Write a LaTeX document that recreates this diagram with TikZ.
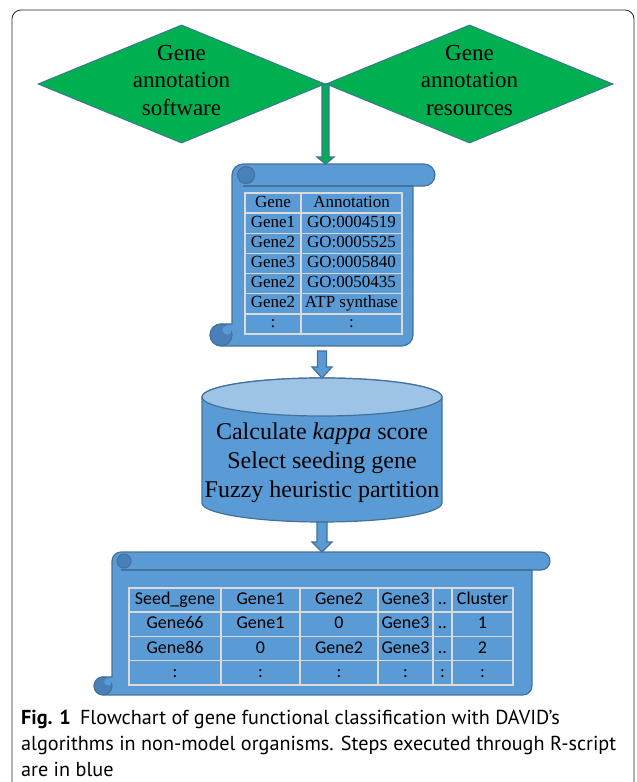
\documentclass[tikz,border=0pt]{standalone}
\usepackage{fontspec}
\setmainfont{Liberation Serif}
\newfontfamily\calibrifont{Carlito}
\newfontfamily\captionfont{PT Sans}
\usetikzlibrary{calc}
\usetikzlibrary{matrix}
\usetikzlibrary{backgrounds}
\usetikzlibrary{shapes.geometric}

\definecolor{officegreen}{HTML}{00B050}
\definecolor{officeblue}{HTML}{5B9BD5}
\definecolor{officeedge}{HTML}{41719C}
\definecolor{officelight}{HTML}{9DC3E6}
\definecolor{curlblue}{HTML}{4A80BA}
\definecolor{gridgray}{HTML}{DADADA}

\tikzset{
    decision/.style={diamond, aspect=2.43, draw=officeedge, line width=0.9pt, fill=officegreen,
        inner sep=0pt, minimum width=287pt, minimum height=118pt, align=center,
        text depth=8pt, font=\fontsize{23}{27.5}\selectfont},
    paper/.style={draw=officeedge, line width=1.2pt, fill=officeblue},
    curl/.style={draw=officeedge, line width=1pt, fill=curlblue},
    arrowedge/.style={draw=officeedge, line width=1.2pt},
    cell/.style={draw=gridgray, line width=1.5pt, inner sep=0pt, outer sep=0pt, anchor=center},
}

% scroll: #1 body top left, #2 body bottom right, #3 roll radius
\newcommand*\scrollbox[3]{
    \draw[paper] let \p1=(#1), \p2=(#2) in
        (\x1,\y1-#3) arc[start angle=180, end angle=90, radius=#3]
        -- (\x2+#3,\y1) arc[start angle=90, end angle=-90, radius=#3]
        -- (\x2,\y1-2*#3) -- (\x2,\y2+#3) arc[start angle=0, end angle=-90, radius=#3]
        -- (\x1-#3,\y2) arc[start angle=-90, end angle=-270, radius=#3]
        -- (\x1,\y2+2*#3) -- cycle;
    \draw[arrowedge] let \p1=(#1), \p2=(#2) in (\x1+#3,\y1-2*#3) -- (\x2,\y1-2*#3);
    \draw[curl] let \p1=(#1) in (\x1+#3+3pt,\y1-#3) circle[radius=0.78*#3];
    \draw[curl] let \p1=(#1), \p2=(#2) in (\x1-#3,\y2+#3) circle[radius=#3];
    \fill[officeblue] let \p1=(#1), \p2=(#2) in (\x1-0.45*#3,\y2+1.45*#3) circle[radius=0.42*#3];
}

% block arrow: from, to, fill, shaft half width, head half width, head length
\newcommand*\blockarrow[6]{
    \draw[arrowedge, fill=#3] let \p1=(#1), \p2=(#2) in
        (\x1-#4,\y1) -- (\x1-#4,\y2+#6) -- (\x1-#5,\y2+#6) -- (\x2,\y2)
        -- (\x1+#5,\y2+#6) -- (\x1+#4,\y2+#6) -- (\x1+#4,\y1) -- cycle;
}

\begin{document}
\begin{tikzpicture}[x=1pt, y=1pt]

    \useasboundingbox (0,0) rectangle (637,782);
    \draw[rounded corners=9pt, line width=0.8pt, black!85] (12,772) rectangle (634,-20);

    % Define nodes
    \node (sw) [decision] at (181.5,698) {Gene\\annotation\\software};
    \node (res) [decision, right of=sw, node distance=288pt] {Gene\\annotation\\resources};

    \matrix (annot) [matrix of nodes, inner sep=0pt, column sep=-1.5pt, row sep=-1.5pt,
        nodes={cell, text height=12pt, text depth=4pt, minimum height=20.15pt,
            font=\fontsize{17}{20}\selectfont},
        column 1/.style={nodes={minimum width=56pt}},
        column 2/.style={nodes={minimum width=101pt}}] at (323.5,518.5) {
        Gene  & Annotation \\
        Gene1 & GO:0004519 \\
        Gene2 & GO:0005525 \\
        Gene3 & GO:0005840 \\
        Gene2 & GO:0050435 \\
        Gene2 & ATP synthase \\
        :     & : \\
    };

    \node (kappa) [align=center, font=\fontsize{24}{29}\selectfont] at (322,319.5)
        {Calculate \textit{kappa} score\\Select seeding gene\\Fuzzy heuristic partition};

    \matrix (clusters) [matrix of nodes, inner sep=0pt, column sep=-1.5pt, row sep=-1.5pt,
        nodes={cell, text height=13pt, text depth=4pt, minimum height=24.25pt,
            font=\calibrifont\fontsize{18}{21}\selectfont},
        column 1/.style={nodes={minimum width=92pt}},
        column 2/.style={nodes={minimum width=79pt}},
        column 3/.style={nodes={minimum width=78pt}},
        column 4/.style={nodes={minimum width=55pt}},
        column 5/.style={nodes={minimum width=19pt}},
        column 6/.style={nodes={minimum width=61pt}}] at (321,145.5) {
        Seed\_gene & Gene1 & Gene2 & Gene3 & .. & Cluster \\
        Gene66     & Gene1 & 0     & Gene3 & .. & 1 \\
        Gene86     & 0     & Gene2 & Gene3 & .. & 2 \\
        :          & :     & :     & :     & :  & : \\
    };

    \node (caption) [anchor=north west, align=left, inner sep=0pt,
        font=\captionfont\fontsize{20.2}{26}\selectfont] at (21,72)
        {\textbf{Fig. 1}\hspace{0.45em}Flowchart of gene functional classification with DAVID’s\\
        algorithms in non-model organisms. Steps executed through R-script\\
        are in blue};

    \coordinate (sc1nw) at ($(annot.north west)+(-12,28)$);
    \coordinate (sc1se) at ($(annot.south east)+(10,-11)$);
    \coordinate (sc2nw) at ($(clusters.north west)+(-16,35)$);
    \coordinate (sc2se) at ($(clusters.south east)+(18,-9)$);
    \coordinate (cyltop) at ($(kappa)+(0,84.5)$);
    \coordinate (cylbot) at ($(kappa)+(0,-59.5)$);

    \begin{scope}[on background layer]
        \scrollbox{sc1nw}{sc1se}{11pt}
        \scrollbox{sc2nw}{sc2se}{9pt}
        % cylinder
        \draw[paper] ($(kappa)+(-120,65.5)$) -- ($(kappa)+(-120,-40.5)$)
            arc[start angle=180, end angle=360, x radius=120, y radius=19]
            -- ($(kappa)+(120,65.5)$) arc[start angle=0, end angle=180, x radius=120, y radius=19] -- cycle;
        \draw[paper, fill=officelight] ($(kappa)+(0,65.5)$) ellipse[x radius=120, y radius=19];
    \end{scope}

    % Draw arrows
    \blockarrow{sw.east}{sw.east |- sc1nw}{officegreen}{3.5pt}{8.5pt}{7pt}
    \blockarrow{$(kappa |- sc1se)+(0,-5)$}{cyltop}{officeblue}{4.5pt}{10pt}{11pt}
    \blockarrow{cylbot}{kappa |- sc2nw}{officeblue}{5pt}{10pt}{10pt}

\end{tikzpicture}
\end{document}
